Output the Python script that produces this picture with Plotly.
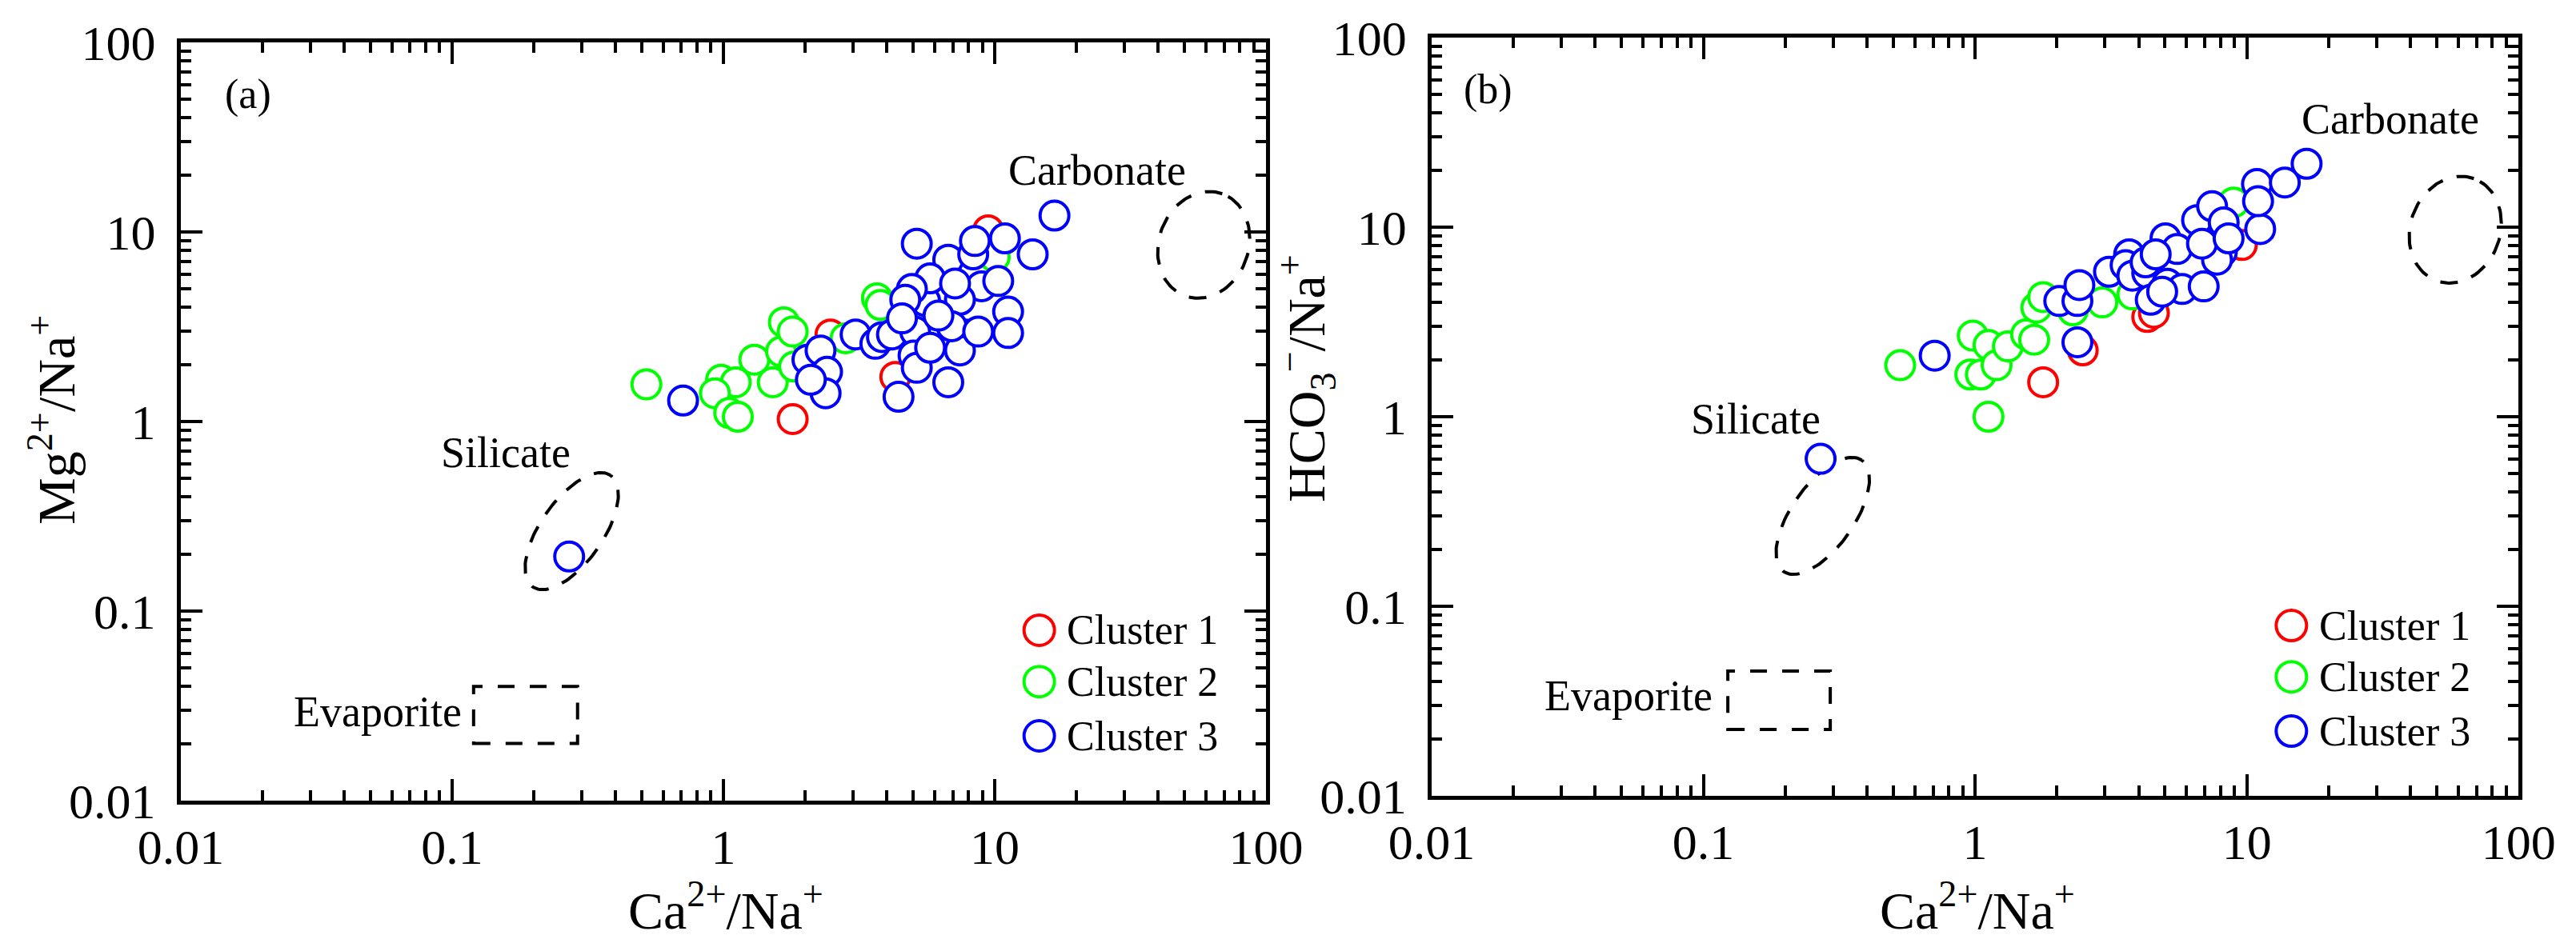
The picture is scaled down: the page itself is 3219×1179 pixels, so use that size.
import numpy as np
import plotly.graph_objects as go
from plotly.subplots import make_subplots

SERIF = 'Liberation Serif'

# ---- panel (a): Mg2+/Na+ against Ca2+/Na+ ----
a_ca_c1 = [1.80, 2.48, 4.30, 9.46]
a_mg_c1 = [1.03, 2.88, 1.72, 10.2]
a_ca_c2 = [0.52, 0.98, 1.11, 0.93, 1.05, 1.13, 1.30, 1.52, 1.63, 1.67, 1.80, 1.82, 2.82, 3.68, 3.79, 10.0]
a_mg_c2 = [1.57, 1.66, 1.61, 1.41, 1.11, 1.06, 2.12, 1.61, 2.34, 3.34, 2.98, 1.95, 2.75, 4.47, 4.12, 7.38]
a_ca_c3 = [0.27, 0.71, 2.04, 2.28, 2.41, 2.38, 2.10, 3.07, 3.63, 3.84, 4.18, 4.42, 5.09, 5.02, 5.16, 5.54,
           5.16, 6.74, 8.33, 8.45, 10.9, 13.8, 16.6, 8.94, 10.3, 11.2, 11.2, 7.44, 7.77, 6.74, 7.44, 6.94,
           5.78, 4.95, 4.68, 6.20, 4.55, 5.78, 8.69, 7.14]
a_mg_c3 = [0.194, 1.29, 2.12, 2.37, 1.83, 1.41, 1.66, 2.88, 2.57, 2.79, 2.88, 1.35, 2.98, 2.23, 1.92, 4.32,
           8.67, 7.14, 7.62, 8.96, 9.25, 7.62, 12.2, 5.17, 5.51, 3.80, 2.93, 4.39, 2.88, 1.61, 2.37, 3.18,
           5.69, 5.00, 4.39, 3.62, 3.50, 2.45, 2.98, 5.35]

# ---- panel (b): HCO3-/Na+ against Ca2+/Na+ ----
b_ca_c1 = [1.78, 2.49, 4.30, 4.55, 9.59]
b_hco3_c1 = [1.52, 2.24, 3.36, 3.53, 8.05]
b_ca_c2 = [0.53, 0.98, 1.12, 0.96, 1.05, 1.20, 1.32, 1.54, 1.65, 1.68, 1.78, 2.29, 2.94, 3.79, 8.94, 1.12]
b_hco3_c2 = [1.87, 2.68, 2.39, 1.67, 1.67, 1.87, 2.35, 2.72, 2.55, 3.76, 4.28, 3.64, 4.01, 4.42, 13.5, 1.00]
b_ca_c3 = [0.27, 0.71, 2.04, 2.38, 2.42, 2.38, 3.11, 3.69, 3.58, 3.79, 4.30, 4.43, 5.10, 5.78, 6.94, 5.02,
           5.54, 6.56, 7.45, 8.22, 8.10, 7.77, 6.84, 11.2, 10.9, 11.0, 13.8, 16.6, 4.24, 4.62, 8.57, 4.88]
b_hco3_c3 = [0.60, 2.10, 4.08, 4.08, 4.95, 2.47, 5.82, 7.19, 6.31, 5.55, 5.73, 4.14, 5.03, 4.72, 4.87, 8.73,
             7.67, 10.9, 12.9, 10.6, 7.42, 6.74, 8.18, 9.77, 16.9, 13.7, 17.2, 21.6, 6.52, 7.19, 8.73, 4.57]

cluster_names = ['Cluster 1', 'Cluster 2', 'Cluster 3']
cluster_colors = ['#ff0000', '#00ff00', '#0000ff']

tick_vals = [0.01, 0.1, 1, 10, 100]
tick_text = ['0.01', '0.1', '1', '10', '100']

# end-member fields: centre (x, y) of each ellipse, box corners, label positions
a_silicate = (0.276, 0.264)
a_carbonate = (58.9, 8.55)
a_evaporite_box = (0.12, 0.29, 0.020, 0.040)
a_labels = [('Carbonate', 23.9, 21.1), ('Silicate', 0.158, 0.684), ('Evaporite', 0.0532, 0.0294)]
b_silicate = (0.275, 0.30)
b_carbonate = (58.5, 9.7)
b_evaporite_box = (0.123, 0.293, 0.0224, 0.0455)
b_labels = [('Carbonate', 33.8, 37.2), ('Silicate', 0.156, 0.97), ('Evaporite', 0.053, 0.0337)]

DEC_X, DEC_Y = 339.0, 237.0  # pixels per decade on each axis, used to shape the ellipses


def ellipse(center, a_px, b_px, angle_deg, n=120):
    """Outline of a tilted ellipse (sizes in screen pixels) on log-log axes."""
    t = np.linspace(0, 2 * np.pi, n)
    th = np.radians(angle_deg)
    dx = (a_px * np.cos(t) * np.cos(th) - b_px * np.sin(t) * np.sin(th)) / DEC_X
    dy = (a_px * np.cos(t) * np.sin(th) + b_px * np.sin(t) * np.cos(th)) / DEC_Y
    return 10 ** (np.log10(center[0]) + dx), 10 ** (np.log10(center[1]) + dy)


fig = make_subplots(rows=1, cols=2)

panels = [
    dict(col=1, xs=[a_ca_c1, a_ca_c2, a_ca_c3], ys=[a_mg_c1, a_mg_c2, a_mg_c3],
         silicate=a_silicate, carbonate=a_carbonate, box=a_evaporite_box, labels=a_labels, tag='(a)',
         tag_x=0.062, ytitle='Mg<sup>2+</sup>/Na<sup>+</sup>', ytitle_pos=(0.018, 0.5615),
         xtitle_pos=(0.2793, 0.045)),
    dict(col=2, xs=[b_ca_c1, b_ca_c2, b_ca_c3], ys=[b_hco3_c1, b_hco3_c2, b_hco3_c3],
         silicate=b_silicate, carbonate=b_carbonate, box=b_evaporite_box, labels=b_labels, tag='(b)',
         tag_x=0.0515, ytitle='HCO<sub>3</sub><sup>\u2212</sup>/Na<sup>+</sup>', ytitle_pos=(0.5048, 0.6056),
         xtitle_pos=(0.7652, 0.045)),
]

title_font = dict(family=SERIF, size=66, color='black')
dash_line = dict(color='black', width=4, dash='22px,18px')
for p in panels:
    col = p['col']
    for center, a_px, b_px, ang in ((p['silicate'], 85, 39, 55), (p['carbonate'], 68, 56, 70)):
        ex, ey = ellipse(center, a_px, b_px, ang)
        fig.add_trace(go.Scatter(x=ex, y=ey, mode='lines', line=dash_line, showlegend=False,
                                 hoverinfo='skip'), row=1, col=col)
    for name, color, x, y in zip(cluster_names, cluster_colors, p['xs'], p['ys']):
        fig.add_trace(go.Scatter(x=x, y=y, mode='markers', name=name, showlegend=False,
                                 marker=dict(symbol='circle', size=36, color='white',
                                             line=dict(color=color, width=4))),
                      row=1, col=col)

    sx = '' if col == 1 else '2'
    x0, x1, y0, y1 = p['box']
    fig.add_shape(type='rect', xref='x' + sx, yref='y' + sx, x0=x0, x1=x1, y0=y0, y1=y1,
                  line=dict(color='black', width=4, dash='21px,19px'))
    for text, lx, ly in p['labels']:
        fig.add_annotation(x=np.log10(lx), y=np.log10(ly), xref='x' + sx, yref='y' + sx, text=text,
                           showarrow=False, xanchor='center', yanchor='middle',
                           font=dict(family=SERIF, size=54, color='black'))
    fig.add_annotation(x=p['tag_x'], y=0.931, xref='x%s domain' % sx, yref='y%s domain' % sx,
                       text=p['tag'], showarrow=False, xanchor='center', yanchor='middle',
                       font=dict(family=SERIF, size=52, color='black'))
    # axis titles, placed by hand
    fig.add_annotation(x=p['ytitle_pos'][0], y=p['ytitle_pos'][1], xref='paper', yref='paper',
                       text=p['ytitle'], textangle=-90, showarrow=False, xanchor='center',
                       yanchor='middle', font=title_font)
    fig.add_annotation(x=p['xtitle_pos'][0], y=p['xtitle_pos'][1], xref='paper', yref='paper',
                       text='Ca<sup>2+</sup>/Na<sup>+</sup>', showarrow=False, xanchor='center',
                       yanchor='middle', font=title_font)
    # hand-built legend (plotly caps legend symbols at 16 px)
    for i, (name, color) in enumerate(zip(cluster_names, cluster_colors)):
        row_y = [0.2247, 0.157, 0.0854][i]
        fig.add_shape(type='circle', xref='x%s domain' % sx, yref='y%s domain' % sx,
                      xsizemode='pixel', ysizemode='pixel', xanchor=0.791, yanchor=row_y,
                      x0=-19, x1=19, y0=-19, y1=19, fillcolor='white',
                      line=dict(color=color, width=4))
        fig.add_annotation(x=0.815, y=row_y, xref='x%s domain' % sx, yref='y%s domain' % sx,
                           text=name, showarrow=False, xanchor='left', yanchor='middle',
                           font=dict(family=SERIF, size=52, color='black'))

minor_vals = [m * 10.0 ** e for e in range(-2, 2) for m in range(2, 10)]
axis_style = dict(type='log', range=[-2, 2], showgrid=False, zeroline=False, automargin=False,
                  showline=True, linewidth=5, linecolor='black', mirror='allticks',
                  ticks='inside', ticklen=27, tickwidth=4, tickcolor='black',
                  tickmode='array', tickvals=tick_vals, ticktext=tick_text,
                  tickfont=dict(family=SERIF, size=62, color='black'),
                  minor=dict(ticks='inside', ticklen=13, tickwidth=4, tickcolor='black',
                             tickmode='array', tickvals=minor_vals, showgrid=False))
fig.update_xaxes(**axis_style)
fig.update_yaxes(**axis_style, ticklabelstandoff=14)

fig.update_xaxes(domain=[0.0677, 0.4890], row=1, col=1)
fig.update_xaxes(domain=[0.5533, 0.9752], row=1, col=2)
fig.update_yaxes(domain=[0.1578, 0.9618], row=1, col=1)
fig.update_yaxes(domain=[0.1628, 0.9669], row=1, col=2)

fig.update_layout(width=3219, height=1179, margin=dict(l=0, r=0, t=0, b=0),
                  plot_bgcolor='white', paper_bgcolor='white', showlegend=False,
                  font=dict(family=SERIF, color='black'))

fig.write_html('out.html')
